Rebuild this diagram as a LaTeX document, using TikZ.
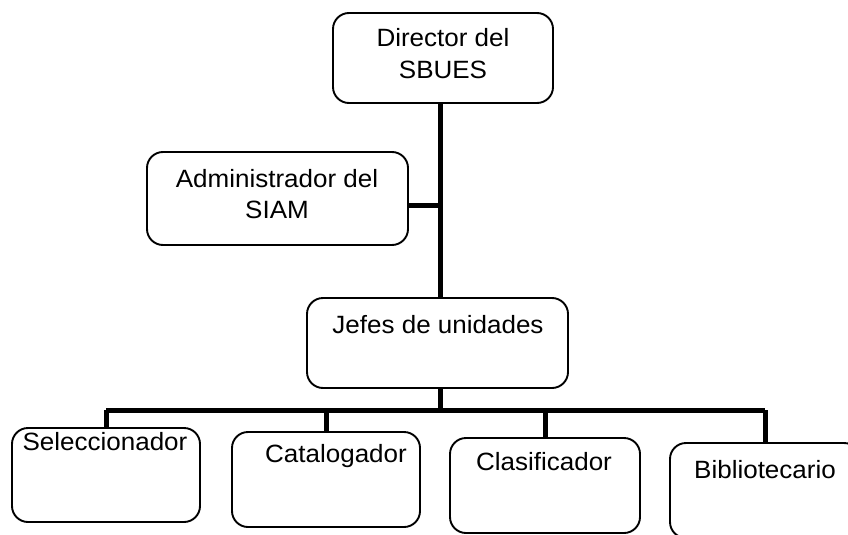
\documentclass[tikz,border=0pt]{standalone}
\usepackage{fontspec}
\setmainfont{Liberation Sans}[FakeStretch=1.04]
\begin{document}
\begin{tikzpicture}[x=1pt,y=-1pt,
  box/.style={draw=black, line width=1.9pt, rounded corners=16pt, inner sep=0pt},
  lbl/.style={anchor=base, inner sep=0pt, font=\fontsize{25}{30}\selectfont},
  conn/.style={line width=5pt}]
\useasboundingbox (0,0) rectangle (848,535);
\clip (0,0) rectangle (848,535);
% boxes
\node[box, minimum width=220pt, minimum height=90pt] (dir) at (443,58) {};
\node[box, minimum width=261pt, minimum height=93pt] (adm) at (277.5,198.5) {};
\node[box, minimum width=261pt, minimum height=90pt] (jef) at (437.5,343) {};
\node[box, minimum width=188pt, minimum height=94pt] (sel) at (106,475) {};
\node[box, minimum width=188pt, minimum height=95pt] (cat) at (326,479.5) {};
\node[box, minimum width=190pt, minimum height=95pt] (cla) at (545,485.5) {};
\node[box, minimum width=190pt, minimum height=95pt] (bib) at (765,490.5) {};
% texts
\node[lbl] (t1) at (443,47) {Director del};
\node[lbl] (t2) at (443,78) {SBUES};
\node[lbl] (t3) at (277,187) {Administrador del};
\node[lbl] (t4) at (277,218) {SIAM};
\node[lbl] (t5) at (438,333) {Jefes de unidades};
\node[lbl] (t6) at (105,450) {Seleccionador};
\node[lbl] (t7) at (336,462) {Catalogador};
\node[lbl] (t8) at (544,470) {Clasificador};
\node[lbl] (t9) at (765,478) {Bibliotecario};
% connectors
\coordinate (top) at (440,103);
\coordinate (mid) at (440,298);
\coordinate (bus) at (0,410);
\draw[conn] (top) -- (mid);
\draw[conn] (adm.east |- 0,205) -- (440,205);
\draw[conn] (440,388) -- (440,410);
\draw[conn] (sel.north |- bus) -- (bib.north |- bus);
\draw[conn] (sel.north |- bus) -- (sel.north);
\draw[conn] (cat.north |- bus) -- (cat.north);
\draw[conn] (cla.north |- bus) -- (cla.north);
\draw[conn] (bib.north |- bus) -- (bib.north);
\end{tikzpicture}
\end{document}
